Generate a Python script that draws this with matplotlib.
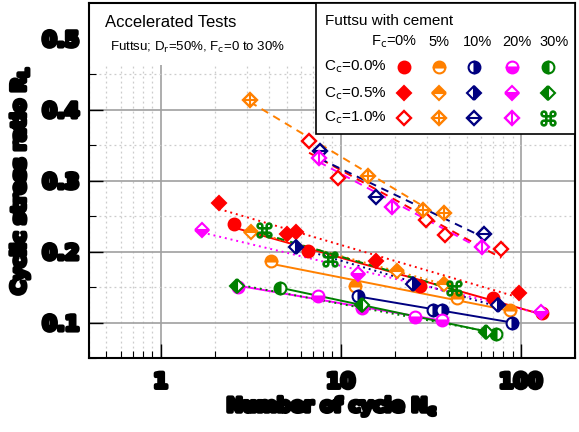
import numpy as np
import matplotlib
matplotlib.use("Agg")
import matplotlib.pyplot as plt
import matplotlib.patheffects as pe
from matplotlib.patches import Rectangle

# cycles to liquefaction / cyclic stress ratio
# key = (Fc %, Cc %)
N_f0_c00 = [2.55, 6.6, 27.6, 70, 131]
R_f0_c00 = [0.239, 0.201, 0.151, 0.135, 0.114]
N_f0_c05 = [2.11, 5.03, 5.64, 15.7, 98]
R_f0_c05 = [0.269, 0.225, 0.228, 0.186, 0.141]
N_f0_c10 = [6.67, 9.66, 29.8, 38, 77.8]
R_f0_c10 = [0.356, 0.303, 0.244, 0.223, 0.204]

N_f5_c00 = [4.1, 12.0, 44.3, 87.2]
R_f5_c00 = [0.187, 0.152, 0.134, 0.117]
N_f5_c05 = [3.18, 20.5, 37.5]
R_f5_c05 = [0.228, 0.172, 0.154]
N_f5_c10 = [3.13, 14.2, 28.7, 37.5]
R_f5_c10 = [0.413, 0.306, 0.258, 0.254]

N_f10_c00 = [12.5, 32.6, 36.5, 89.8]
R_f10_c00 = [0.137, 0.117, 0.118, 0.100]
N_f10_c05 = [5.64, 25.2, 74.8]
R_f10_c05 = [0.207, 0.154, 0.124]
N_f10_c10 = [7.67, 15.7, 62.5]
R_f10_c10 = [0.341, 0.277, 0.225]

N_f20_c00 = [2.7, 7.48, 13.1, 25.9, 36.5]
R_f20_c00 = [0.150, 0.137, 0.120, 0.108, 0.103]
N_f20_c05 = [1.70, 12.5, 130]
R_f20_c05 = [0.230, 0.168, 0.115]
N_f20_c10 = [7.57, 19.3, 61]
R_f20_c10 = [0.331, 0.262, 0.207]

N_f30_c00 = [4.6, 72.9]
R_f30_c00 = [0.149, 0.0845]
N_f30_c05 = [2.65, 13.1, 64.2]
R_f30_c05 = [0.152, 0.124, 0.086]
N_f30_c10 = [3.75, 8.72, 42.6]
R_f30_c10 = [0.230, 0.189, 0.149]

fc_labels = ["0%", "5%", "10%", "20%", "30%"]
cc_labels = ["0.0%", "0.5%", "1.0%"]
colors = ["#ff0000", "#ff8000", "#000080", "#ff00ff", "#008000"]
fills = ["full", "top", "right", "bottom", "left"]
inner = [None, "+", "_", "|", None]

data = [
    [(N_f0_c00, R_f0_c00), (N_f0_c05, R_f0_c05), (N_f0_c10, R_f0_c10)],
    [(N_f5_c00, R_f5_c00), (N_f5_c05, R_f5_c05), (N_f5_c10, R_f5_c10)],
    [(N_f10_c00, R_f10_c00), (N_f10_c05, R_f10_c05), (N_f10_c10, R_f10_c10)],
    [(N_f20_c00, R_f20_c00), (N_f20_c05, R_f20_c05), (N_f20_c10, R_f20_c10)],
    [(N_f30_c00, R_f30_c00), (N_f30_c05, R_f30_c05), (N_f30_c10, R_f30_c10)],
]
line_styles = ["-", (0, (1, 2)), (0, (4, 3))]

heavy = [pe.withStroke(linewidth=3, foreground="black")]


def draw_marker(ax, x, y, i, j, **kw):
    c = colors[i]
    if j == 0:
        ax.plot(x, y, "o", ms=8.5, mec=c, mfc=c, mfcalt="white",
                fillstyle=fills[i], mew=1.5, ls="none", **kw)
    elif j == 1:
        ax.plot(x, y, "D", ms=7.5, mec=c, mfc=c, mfcalt="white",
                fillstyle=fills[i], mew=1.5, ls="none", **kw)
    else:
        if i == 4:
            ax.plot(x, y, marker="$\u2318$", ms=11, color=c, mew=0.8,
                    ls="none", **kw)
        else:
            ax.plot(x, y, "D", ms=7.5, mec=c, mfc="white", mew=1.7,
                    ls="none", **kw)
            if inner[i]:
                ax.plot(x, y, inner[i], ms=8.5, mec=c, mew=1.5,
                        ls="none", **kw)


fig = plt.figure(figsize=(5.79, 4.32), dpi=100)
ax = fig.add_axes([89 / 579, 74 / 432, 486 / 579, 355 / 432])

for i in range(5):
    for j in range(3):
        N, R = data[i][j]
        lx = np.log10(N)
        b, a = np.polyfit(lx, R, 1)
        xs = np.array([min(N), max(N)])
        ax.plot(xs, a + b * np.log10(xs), color=colors[i], ls=line_styles[j],
                lw=1.4, zorder=3)

for i in range(5):
    for j in range(3):
        N, R = data[i][j]
        draw_marker(ax, N, R, i, j, zorder=4)

ax.set_xscale("log")
ax.set_xlim(0.4, 200)
ax.set_ylim(0.05, 0.55)
ax.set_yticks([0.1, 0.2, 0.3, 0.4, 0.5])
ax.set_yticks(np.arange(0.05, 0.55, 0.1), minor=True)
ax.set_xticks([1, 10, 100])
ax.set_xticklabels(["1", "10", "100"])
ax.set_yticklabels(["0.1", "0.2", "0.3", "0.4", "0.5"])
ax.grid(True, which="major", color="#a0a0a0", lw=1.2)
ax.grid(True, which="minor", color="#cccccc", lw=0.9, ls=(0, (1.5, 2.5)))
ax.set_axisbelow(True)
ax.tick_params(which="both", direction="in", top=False, right=False)
ax.tick_params(which="major", length=10, width=1)
ax.tick_params(which="minor", length=5, width=0.8)
for s in ax.spines.values():
    s.set_linewidth(1.5)

for lab in ax.get_xticklabels() + ax.get_yticklabels():
    lab.set_fontsize(15)
    lab.set_fontweight("heavy")
    lab.set_path_effects(heavy)
ax.tick_params(axis="x", pad=10)
ax.tick_params(axis="y", pad=7)

ax.set_xlabel("Number of cycle N$_\\mathbf{c}$", fontsize=14, fontweight="heavy",
              path_effects=heavy, labelpad=2)
ax.set_ylabel("Cyclic stress ratio R$_\\mathbf{L}$", fontsize=14,
              fontweight="heavy", path_effects=heavy, labelpad=8)

# white patch behind the title text, top-left
ax.add_patch(Rectangle((0, 0.825), 0.467, 0.175, transform=ax.transAxes,
                       facecolor="white", edgecolor="none", zorder=2))
ax.text(0.033, 0.946, "Accelerated Tests", transform=ax.transAxes,
        fontsize=12, family="Liberation Sans", va="center", zorder=6)
ax.text(0.043, 0.876, "Futtsu; D$_\\mathrm{r}$=50%, F$_\\mathrm{c}$=0 to 30%",
        transform=ax.transAxes, fontsize=9.5, family="Liberation Sans",
        va="center", zorder=6)

# legend block
ax.add_patch(Rectangle((0.467, 0.631), 0.533, 0.369, transform=ax.transAxes,
                       facecolor="white", edgecolor="black", lw=1.2, zorder=7))
ax.text(0.486, 0.949, "Futtsu with cement", transform=ax.transAxes,
        fontsize=11, family="Liberation Sans", va="center", zorder=8)
col_x = [0.648, 0.720, 0.792, 0.870, 0.944]
head_x = [0.628, 0.720, 0.800, 0.880, 0.958]
row_y = [0.820, 0.746, 0.676]
for k, lab in enumerate(fc_labels):
    txt = "F$_\\mathrm{c}$=" + lab if k == 0 else lab
    ax.text(head_x[k], 0.890, txt, transform=ax.transAxes, fontsize=10.5,
            family="Liberation Sans", ha="center", va="center", zorder=8)
for j, lab in enumerate(cc_labels):
    ax.text(0.484, row_y[j], "C$_\\mathrm{c}$=" + lab, transform=ax.transAxes,
            fontsize=11, family="Liberation Sans", va="center", zorder=8)
    for i in range(5):
        draw_marker(ax, [col_x[i]], [row_y[j]], i, j,
                    transform=ax.transAxes, zorder=9, clip_on=False)

fig.savefig("out.png", dpi=100)
